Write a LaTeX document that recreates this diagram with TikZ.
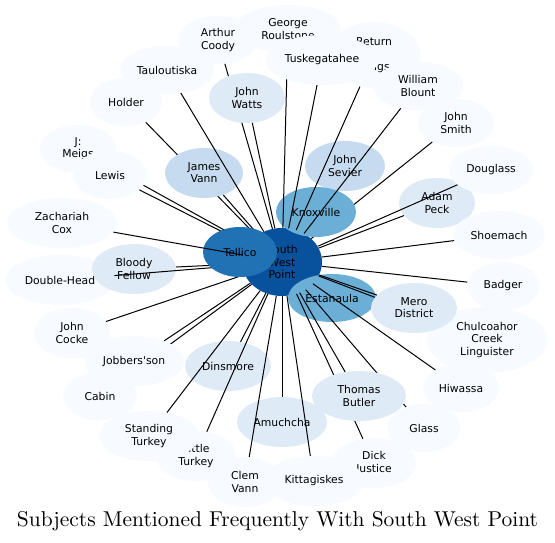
\documentclass[tikz,border=0pt]{standalone}
\usepackage{fontspec}
\usepackage{graphicx}
\usetikzlibrary{shapes.geometric}
\newfontfamily\nodefont{DejaVu Sans}
\definecolor{bA}{HTML}{F7FBFF}
\definecolor{bB}{HTML}{DEEBF7}
\definecolor{bC}{HTML}{C6DBEF}
\definecolor{bE}{HTML}{6BAED6}
\definecolor{bG}{HTML}{2171B5}
\definecolor{bH}{HTML}{08519C}
\tikzset{
  nd/.style={ellipse, inner sep=0pt, align=center, text=black,
    font=\nodefont\fontsize{10.8}{12.2}\selectfont},
  sz/.style 2 args={minimum width=#1, minimum height=#2},
  lA/.style={nd, fill=bA},
  lB/.style={nd, fill=bB},
  lC/.style={nd, fill=bC},
  lE/.style={nd, fill=bE},
  lG/.style={nd, fill=bG},
  lH/.style={nd, fill=bH},
  lnk/.style={draw=black, line width=1pt},
  ttl/.style={inner sep=0pt}
}
\begin{document}
\begin{tikzpicture}[x=1pt,y=-1pt]
\useasboundingbox (0,0) rectangle (555,543);
\fill[white] (0,0) rectangle (555,543);
% centre
\node[lH, sz={80}{68}] (swp) at (282,262) {South\\West\\Point};
% left upper
\node[lA, sz={76}{48}] (jmeigs) at (78,149) {J:\\Meigs};
\draw[lnk] (swp) -- (jmeigs);
\node[lA, sz={74}{48}] (lewis) at (110,175) {Lewis};
\draw[lnk] (swp) -- (lewis);
% left lower
\node[lA, sz={74}{48}] (cabin) at (100,396) {Cabin};
\draw[lnk] (swp) -- (cabin);
\node[lA, sz={100}{50}] (jobb) at (134,361) {Jobbers\textquotesingle son};
\draw[lnk] (swp) -- (jobb);
% upper left
\node[lA, sz={80}{48}] (arthur) at (218,40) {Arthur\\Coody};
\draw[lnk] (swp) -- (arthur);
\node[lB, sz={76}{50}] (watts) at (247,98) {John\\Watts};
\draw[lnk] (swp) -- (watts);
\node[lA, sz={72}{48}] (holder) at (126,102) {Holder};
\draw[lnk] (swp) -- (holder);
\node[lC, sz={78}{50}] (jvann) at (204,173) {James\\Vann};
\draw[lnk] (swp) -- (jvann);
\node[lA, sz={94}{48}] (taul) at (167,70) {Tauloutiska};
\draw[lnk] (swp) -- (taul);
% upper right
\node[lA, sz={76}{48}] (jsmith) at (456,123) {John\\Smith};
\draw[lnk] (swp) -- (jsmith);
\node[lC, sz={80}{50}] (sevier) at (345,166) {John\\Sevier};
\draw[lnk] (swp) -- (sevier);
\node[lE, sz={80}{50}] (knox) at (316,212) {Knoxville};
\node[lA, sz={92}{66}] (retm) at (374,55) {Return\\J.\\Meigs};
\draw[lnk] (swp) -- (retm);
\node[lA, sz={106}{48}] (geo) at (288,29) {George\\Roulstone};
\draw[lnk] (swp) -- (geo);
\node[lA, sz={112}{50}] (tusk) at (322,60) {Tuskegatahee};
\draw[lnk] (swp) -- (tusk);
\node[lA, sz={90}{48}] (wb) at (418,86) {William\\Blount};
\draw[lnk] (swp) -- (wb);
% right
\node[lB, sz={76}{50}] (peck) at (437,203) {Adam\\Peck};
\draw[lnk] (swp) -- (peck);
\node[lA, sz={84}{48}] (doug) at (491,170) {Douglass};
\draw[lnk] (swp) -- (doug);
\node[lA, sz={92}{48}] (shoe) at (499,235) {Shoemach};
\draw[lnk] (swp) -- (shoe);
\node[lA, sz={72}{48}] (badger) at (503,286) {Badger};
\draw[lnk] (swp) -- (badger);
\node[lE, sz={88}{48}] (esta) at (332,298) {Estanaula};
\node[lA, sz={120}{66}] (chul) at (487,340) {Chulcoahor\\Creek\\Linguister};
\draw[lnk] (swp) -- (chul);
\node[lB, sz={86}{50}] (mero) at (414,308) {Mero\\District};
\draw[lnk] (swp) -- (mero);
\node[lA, sz={76}{48}] (hiw) at (461,388) {Hiwassa};
\draw[lnk] (swp) -- (hiw);
% lower right
\node[lA, sz={72}{48}] (glass) at (424,428) {Glass};
\draw[lnk] (swp) -- (glass);
\node[lA, sz={84}{50}] (dick) at (374,463) {Dick\\Justice};
\draw[lnk] (swp) -- (dick);
\node[lB, sz={94}{50}] (butler) at (359,396) {Thomas\\Butler};
\draw[lnk] (swp) -- (butler);
% bottom
\node[lA, sz={100}{50}] (kitt) at (314,481) {Kittagiskes};
\node[lB, sz={90}{50}] (amu) at (282,422) {Amuchcha};
\draw[lnk] (swp) -- (amu);
\draw[lnk] (swp) -- (kitt);
\node[lA, sz={74}{50}] (clem) at (245,482) {Clem\\Vann};
\node[lB, sz={86}{50}] (dins) at (228,366) {Dinsmore};
\draw[lnk] (swp) -- (dins);
\draw[lnk] (swp) -- (clem);
\node[lA, sz={80}{50}] (little) at (196,456) {Little\\Turkey};
\node[lA, sz={100}{50}] (standing) at (149,436) {Standing\\Turkey};
\draw[lnk] (swp) -- (little);
\draw[lnk] (swp) -- (standing);
% left
\node[lA, sz={76}{50}] (cocke) at (72,333) {John\\Cocke};
\draw[lnk] (swp) -- (cocke);
\node[lA, sz={110}{50}] (dh) at (60,280) {Double-Head};
\node[lB, sz={84}{50}] (bf) at (134,269) {Bloody\\Fellow};
\draw[lnk] (swp) -- (bf);
\draw[lnk] (swp) -- (dh);
\node[lG, sz={74}{50}] (tellico) at (240,252) {Tellico};
\node[lA, sz={110}{50}] (zach) at (62,223) {Zachariah\\Cox};
\draw[lnk] (swp) -- (zach);
% title
\node[ttl] (title) at (277.5,521) {\resizebox{521pt}{!}{Subjects Mentioned Frequently With South West Point}};
\end{tikzpicture}
\end{document}
